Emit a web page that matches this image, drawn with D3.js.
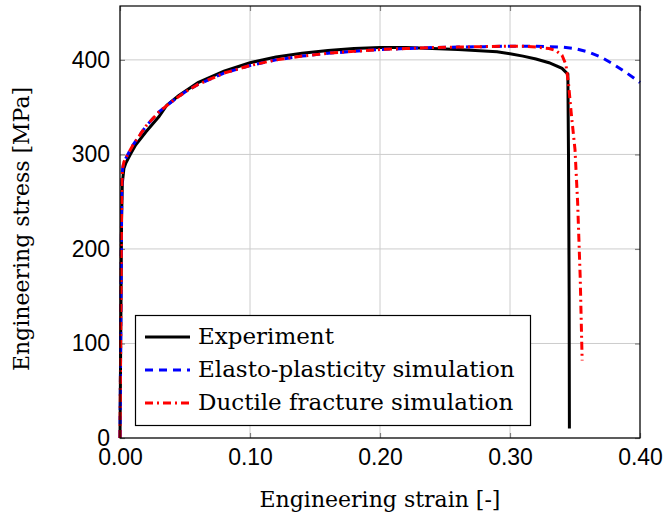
<!DOCTYPE html>
<html><head><meta charset="utf-8">
<script src="https://cdn.jsdelivr.net/npm/d3@7"></script>
<style>body{margin:0;background:#fff}svg{display:block}</style>
</head><body>
<script>
const xTicks = [0.00, 0.10, 0.20, 0.30, 0.40];
const yTicks = [0, 100, 200, 300, 400];
const expStrain = [0,0.0008,0.0012,0.0018,0.003,0.0045,0.008,0.012,0.02,0.03,0.036,0.045,0.06,0.08,0.1,0.12,0.14,0.16,0.18,0.2,0.22,0.24,0.26,0.28,0.29,0.30,0.31,0.32,0.33,0.34,0.3445,0.345,0.3455,0.3457];
const expStress = [0,150,230,270,285,291,300,310,324,340,352,362,376,388,397,403,407,410,412,413,413,412,411,409.5,408.5,406.5,404,401,397,391,385,300,150,10];
const epStrain = [0,0.0005,0.001,0.0014,0.002,0.003,0.006,0.01,0.02,0.03,0.04,0.05,0.06,0.08,0.1,0.12,0.14,0.16,0.18,0.2,0.22,0.24,0.26,0.28,0.3,0.32,0.34,0.35,0.36,0.37,0.38,0.39,0.40];
const epStress = [0,100,200,270,285,292,300,310,330,345,356,366,374,386,394,400,404,407,409,411,412,413,413.5,414,414.5,414.5,413.5,412,408.5,403,395,386,376];
const dfStrain = [0,0.0005,0.001,0.0014,0.002,0.003,0.006,0.01,0.02,0.03,0.04,0.05,0.06,0.08,0.1,0.12,0.14,0.16,0.18,0.2,0.22,0.24,0.26,0.28,0.3,0.31,0.32,0.33,0.335,0.34,0.343,0.345,0.347,0.35,0.352,0.354,0.3555];
const dfStress = [0,100,200,270,285,292,300,310,330,345,356,366,374,386,394,400,404,407,409,411,412,413,413.5,414,414.5,414.5,413.5,412,410,405,395,375,345,305,250,170,82];
const seriesNames = ["Experiment","Elasto-plasticity simulation","Ductile fracture simulation"];

const W=667,H=516, L=120,R=640,T=6,B=438;
const font = "'DejaVu Serif', 'Liberation Serif', serif";
const FS_TICK = 23, FS_LEG = 23, FS_LAB = 22;
const svg = d3.select("body").append("svg").attr("width",W).attr("height",H);
const x = d3.scaleLinear().domain([0,0.4]).range([L,R]);
const y = d3.scaleLinear().domain([0,457]).range([B,T]);

// grid
const g = svg.append("g");
g.selectAll(".gx").data(xTicks).join("line").attr("x1",d=>x(d)).attr("x2",d=>x(d)).attr("y1",T).attr("y2",B).attr("stroke","#cccccc").attr("stroke-width",1);
g.selectAll(".gy").data(yTicks).join("line").attr("y1",d=>y(d)).attr("y2",d=>y(d)).attr("x1",L).attr("x2",R).attr("stroke","#cccccc").attr("stroke-width",1);

// inner ticks via axes
const ax = svg.append("g").attr("font-family",font);
ax.append("g").attr("transform",`translate(0,${B})`).call(d3.axisBottom(x).tickValues(xTicks).tickSize(-5).tickPadding(11).tickFormat(d3.format(".2f")));
ax.append("g").attr("transform",`translate(0,${T})`).call(d3.axisTop(x).tickValues(xTicks).tickSize(-5).tickFormat(""));
ax.append("g").attr("transform",`translate(${L},0)`).call(d3.axisLeft(y).tickValues(yTicks).tickSize(-5).tickPadding(10));
ax.append("g").attr("transform",`translate(${R},0)`).call(d3.axisRight(y).tickValues(yTicks).tickSize(-5).tickFormat(""));
ax.selectAll(".domain").remove();
ax.selectAll(".tick line").attr("stroke","#808080").attr("stroke-width",1.2);
ax.selectAll(".tick text").attr("font-size",FS_TICK).attr("fill","#000");

// curves
const line = d3.line().x(d=>x(d[0])).y(d=>y(d[1]));
const pc = svg.append("g");
const zip = (a,b)=>a.map((v,i)=>[v,b[i]]);
pc.append("path").attr("d",line(zip(expStrain,expStress))).attr("fill","none").attr("stroke","#000").attr("stroke-width",3);
pc.append("path").attr("d",line(zip(epStrain,epStress))).attr("fill","none").attr("stroke","#0000ff").attr("stroke-width",3).attr("stroke-dasharray","8,6");
pc.append("path").attr("d",line(zip(dfStrain,dfStress))).attr("fill","none").attr("stroke","#ff0000").attr("stroke-width",3).attr("stroke-dasharray","8,4,2,4");

// frame
svg.append("rect").attr("x",L).attr("y",T).attr("width",R-L).attr("height",B-T).attr("fill","none").attr("stroke","#000").attr("stroke-width",1.2);

// legend
const lg = svg.append("g");
lg.append("rect").attr("x",135.5).attr("y",315.5).attr("width",395).attr("height",110).attr("fill","#fff").attr("stroke","#000").attr("stroke-width",1.2);
const styles = [{c:"#000",d:null},{c:"#0000ff",d:"8,6"},{c:"#ff0000",d:"8,4,2,4"}];
seriesNames.forEach((n,i)=>{
  const yy = 337 + i*33;
  lg.append("line").attr("x1",145).attr("x2",190).attr("y1",yy).attr("y2",yy).attr("stroke",styles[i].c).attr("stroke-width",3).attr("stroke-dasharray",styles[i].d);
  lg.append("text").attr("x",198).attr("y",yy+7).attr("font-family",font).attr("font-size",FS_LEG).text(n);
});

// axis labels
svg.append("text").attr("x",380).attr("y",507).attr("text-anchor","middle").attr("font-family",font).attr("font-size",FS_LAB).text("Engineering strain [-]");
svg.append("text").attr("transform","translate(29,229) rotate(-90)").attr("text-anchor","middle").attr("font-family",font).attr("font-size",FS_LAB).text("Engineering stress [MPa]");
</script>
</body></html>
